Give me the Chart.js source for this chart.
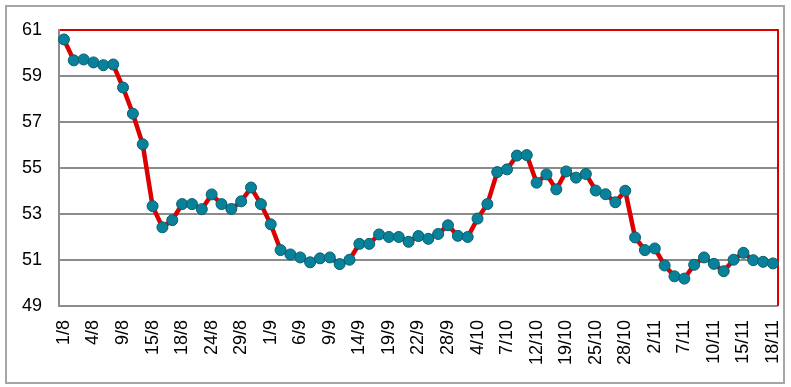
<!DOCTYPE html>
<html>
<head>
<meta charset="utf-8">
<script src="https://cdn.jsdelivr.net/npm/chart.js@4.4.1/dist/chart.umd.min.js"></script>
<style>
  html, body { margin: 0; padding: 0; background: #ffffff; }
  #wrap { position: relative; width: 791px; height: 387px; }
  #frame { position: absolute; left: 5px; top: 5px; width: 776px; height: 375px; border: 2px solid #a6a6a6; pointer-events: none; }
  canvas { position: absolute; left: 0; top: 0; }
</style>
</head>
<body>
<div id="wrap">
  <canvas id="c" width="791" height="387"></canvas>
  <div id="frame"></div>
</div>
<script>
const tickLabels = ["1/8","4/8","9/8","15/8","18/8","24/8","29/8","1/9","6/9","9/9","14/9","19/9","22/9","28/9","4/10","7/10","12/10","19/10","25/10","28/10","2/11","7/11","10/11","15/11","18/11"];
const labelEvery = 3;
const values = [
  60.59, 59.68, 59.72, 59.59, 59.47, 59.50, 58.50, 57.36, 56.03, 53.34,
  52.42, 52.73, 53.43, 53.43, 53.21, 53.85, 53.43, 53.22, 53.55, 54.15,
  53.43, 52.55, 51.43, 51.24, 51.11, 50.90, 51.07, 51.11, 50.82, 51.01,
  51.70, 51.70, 52.11, 52.00, 52.00, 51.79, 52.04, 51.92, 52.13, 52.51,
  52.05, 52.00, 52.80, 53.43, 54.82, 54.94, 55.54, 55.56, 54.36, 54.72,
  54.07, 54.85, 54.58, 54.74, 54.02, 53.86, 53.51, 54.01, 51.98, 51.43,
  51.50, 50.76, 50.29, 50.19, 50.79, 51.11, 50.83, 50.51, 51.01, 51.31,
  50.99, 50.92, 50.85
];
const yMin = 49, yMax = 61, yStep = 2;

const labels = values.map((v, i) => (i % labelEvery === 0 ? (tickLabels[i / labelEvery] || '') : ''));

const font = { family: "'Liberation Sans', Arial, sans-serif", size: 18, lineHeight: 1 };

new Chart(document.getElementById('c'), {
  type: 'line',
  data: {
    labels: labels,
    datasets: [{
      data: values,
      borderColor: '#dc0000',
      borderWidth: 4.5,
      tension: 0,
      pointRadius: 5.5,
      pointBackgroundColor: '#08829a',
      pointBorderColor: '#075e6e',
      pointBorderWidth: 1,
      fill: false
    }]
  },
  options: {
    responsive: false,
    animation: false,
    events: [],
    layout: { padding: { left: 5, right: 7, top: 30, bottom: 22 } },
    plugins: { legend: { display: false }, tooltip: { enabled: false } },
    scales: {
      x: {
        type: 'category',
        offset: true,
        grid: { display: true, drawOnChartArea: false, drawTicks: true, tickLength: 14, tickColor: 'rgba(0,0,0,0)' },
        border: { display: true, color: '#8c8c8c', width: 2 },
        ticks: {
          autoSkip: false,
          maxRotation: 90,
          minRotation: 90,
          padding: 0,
          color: '#000000',
          font: font
        }
      },
      y: {
        min: yMin,
        max: yMax,
        ticks: { stepSize: yStep, padding: 17, color: '#000000', font: font },
        grid: {
          drawTicks: false,
          lineWidth: 2,
          color: (ctx) => (ctx.tick && ctx.tick.value === yMax ? '#dc0000' : '#8c8c8c')
        },
        border: { display: true, color: '#8c8c8c', width: 2 }
      },
      y2: {
        position: 'right',
        min: yMin,
        max: yMax,
        ticks: { display: false },
        grid: { drawOnChartArea: false, drawTicks: false },
        border: { display: true, color: '#dc0000', width: 2 }
      }
    }
  }
});
</script>
</body>
</html>
